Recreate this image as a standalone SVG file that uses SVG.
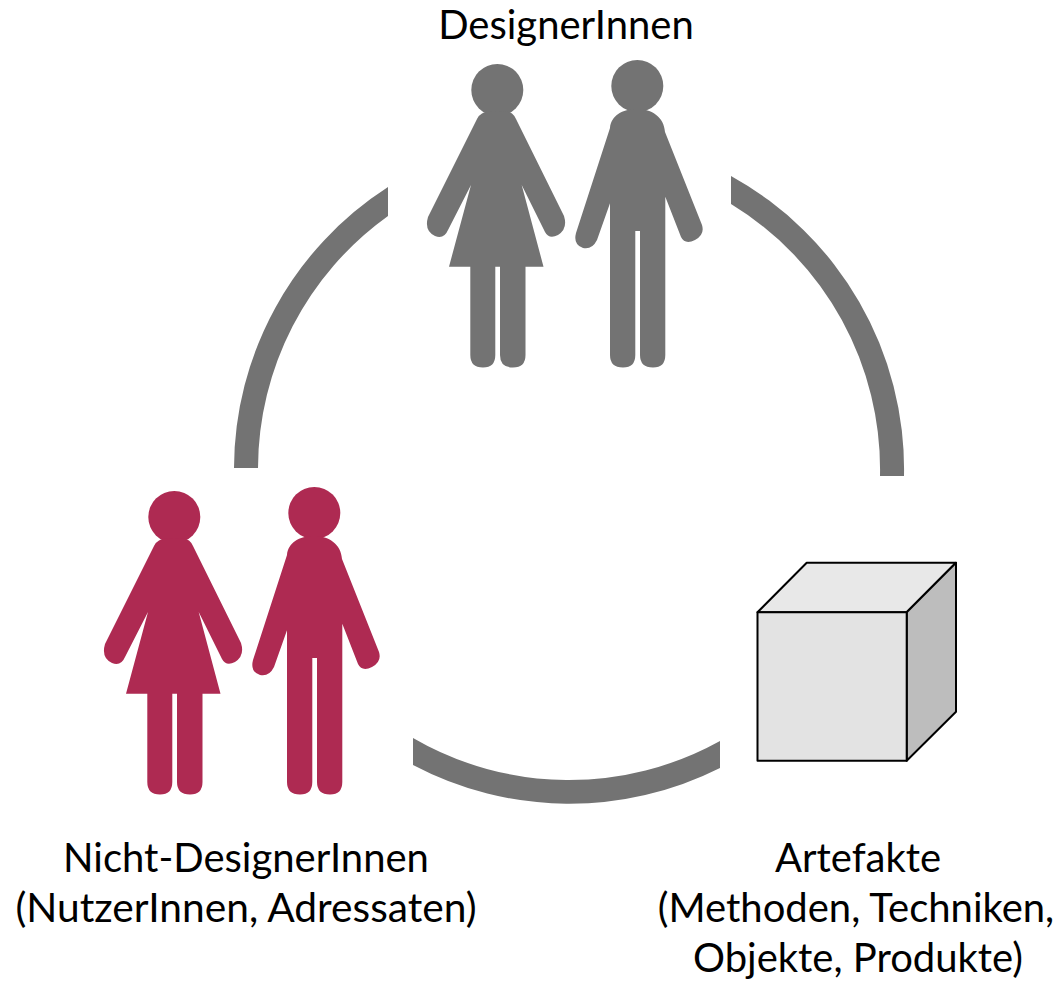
<svg xmlns="http://www.w3.org/2000/svg" width="1064" height="982" viewBox="0 0 1064 982">
<style>
text{font-family:"Lato","Open Sans",sans-serif;font-size:40px;fill:#000;text-anchor:middle}
.gray{fill:#737373}
.red{fill:#ae2a52}
.arc{fill:#737373}
.cube{stroke:#000;stroke-width:2;stroke-linejoin:round}
</style>
<defs>
<g id="couple">
<circle cx="497.3" cy="90" r="26"/>
<path d="M482,113.500Q485,111 497,111Q509,111 512,113.500Q514,115 516,119L564,216Q568,229 558,235Q549,239.500 545,232L521.700,185L543.500,266.700H525.500V355Q525.500,367.500 513,367.500Q500,367.500 500,355V266.700H495.300V355Q495.300,367.500 483,367.500Q470.300,367.500 470.300,355V266.700H449L471,185L448,230Q444,239.500 435,236Q424,231 428,217L477,119Q479,115 482,113.500Z"/>
<circle cx="637.3" cy="86" r="26"/>
<path d="M610,128C611,116 622,109 637,109C652,109 664,117 665,132L702,225Q705,235 695,240Q685,245 681,237L665.300,196.700V355Q665.300,367.500 653,367.500Q640,367.500 640,355V231H635.300V355Q635.300,367.500 623,367.500Q610,367.500 610,355V203.300L597,240Q592,250 583,248Q573,245 576,233Z"/>
</g>
</defs>
<g id="connectors">
<path class="arc" d="M234,468A335,335 0 0 1 388,187V216A311,311 0 0 0 258,468Z"/>
<path class="arc" d="M731,176A335,335 0 0 1 904,476H880A311,311 0 0 0 731,204Z"/>
<path class="arc" d="M413,738A311,311 0 0 0 720,741V768A335,335 0 0 1 413,765Z"/>
</g>
<g id="designer">
<use href="#couple" class="gray"/>
<text x="566" y="39">DesignerInnen</text>
</g>
<g id="nicht-designer">
<use href="#couple" class="red" transform="translate(-323,427)"/>
<text x="246" y="872">Nicht-DesignerInnen</text>
<text x="246" y="922" style="font-size:40.7px">(NutzerInnen, Adressaten)</text>
</g>
<g id="artefakte">
<path class="cube" fill="#e8e8e8" d="M757.500,612.300L806.700,562.700H956L906.700,612.300Z"/>
<path class="cube" fill="#bdbdbd" d="M906.700,612.300L956,562.700V711.700L906.700,760.700Z"/>
<rect class="cube" fill="#e3e3e3" x="757.500" y="612.300" width="149.200" height="148.400"/>
<text x="858" y="872">Artefakte</text>
<text x="856" y="922">(Methoden, Techniken,</text>
<text x="858" y="972">Objekte, Produkte)</text>
</g>
</svg>
